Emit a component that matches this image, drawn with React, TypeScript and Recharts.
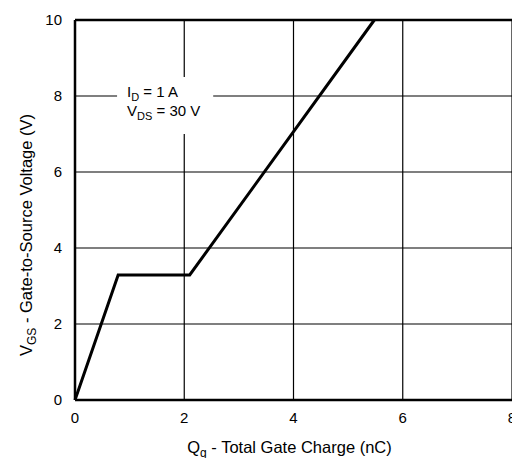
import React from "react";
import {
  LineChart,
  Line,
  XAxis,
  YAxis,
  CartesianGrid,
  ReferenceLine,
  ReferenceArea,
} from "recharts";

// gate charge curve: Qg (nC) vs VGS (V)
const charge = [0, 0.79, 2.1, 5.48];
const vgs = [0, 3.29, 3.29, 10];
const xTicks = [0, 2, 4, 6, 8];
const yTicks = [0, 2, 4, 6, 8, 10];

const data = charge.map((q, i) => ({ q, v: vgs[i] }));

const FONT = "'Liberation Sans', Arial, Helvetica, sans-serif";

function NoteLabel(props: any) {
  const { viewBox } = props;
  if (!viewBox) return null;
  const x = viewBox.x + 10;
  const y = viewBox.y;
  return (
    <g fontFamily={FONT} fontSize={15} fill="#000">
      <text x={x} y={y + 20}>
        I<tspan fontSize={11} dy={4}>D</tspan>
        <tspan dy={-4}> = 1 A</tspan>
      </text>
      <text x={x} y={y + 39}>
        V<tspan fontSize={11} dy={4}>DS</tspan>
        <tspan dy={-4}> = 30 V</tspan>
      </text>
    </g>
  );
}

function XTitle(props: any) {
  const { viewBox } = props;
  const cx = viewBox.x + viewBox.width / 2 - 4;
  return (
    <text x={cx} y={453} textAnchor="middle" fontFamily={FONT} fontSize={16.5} fill="#000">
      Q<tspan fontSize={12} dy={4}>g</tspan>
      <tspan dy={-4}> - Total Gate Charge (nC)</tspan>
    </text>
  );
}

function YTitle(props: any) {
  const { viewBox } = props;
  const cy = viewBox.y + viewBox.height / 2 + 25;
  return (
    <text
      x={32}
      y={cy}
      transform={`rotate(-90 32 ${cy})`}
      textAnchor="middle"
      fontFamily={FONT}
      fontSize={16.5}
      fill="#000"
    >
      V<tspan fontSize={12} dy={4}>GS</tspan>
      <tspan dy={-4}> - Gate-to-Source Voltage (V)</tspan>
    </text>
  );
}

export default function App() {
  return (
    <div
      style={{
        position: "absolute",
        left: 0,
        top: 0,
        width: 512,
        height: 458,
        overflow: "hidden",
        background: "#fff",
      }}
    >
      <LineChart
        width={532}
        height={458}
        data={data}
        margin={{ top: 20, right: 20, left: 0, bottom: 0 }}
      >
        <CartesianGrid stroke="#000" strokeWidth={1.2} />
        <XAxis
          dataKey="q"
          type="number"
          domain={[0, 8]}
          ticks={xTicks}
          height={58}
          tickSize={0}
          tickMargin={12}
          tickLine={false}
          axisLine={{ stroke: "#000", strokeWidth: 2.5 }}
          tick={{ fontSize: 15, fill: "#000", fontFamily: FONT }}
          label={<XTitle />}
        />
        <YAxis
          type="number"
          domain={[0, 10]}
          ticks={yTicks}
          width={75}
          tickSize={0}
          tickMargin={13}
          tickLine={false}
          axisLine={{ stroke: "#000", strokeWidth: 2.5 }}
          tick={{ fontSize: 15, fill: "#000", fontFamily: FONT }}
          label={<YTitle />}
        />
        <ReferenceLine y={10} stroke="#000" strokeWidth={2.5} />
        <ReferenceArea
          x1={0.77}
          x2={2.53}
          y1={7.0}
          y2={8.5}
          fill="#fff"
          fillOpacity={1}
          stroke="none"
          label={<NoteLabel />}
        />
        <Line
          type="linear"
          dataKey="v"
          stroke="#000"
          strokeWidth={3}
          dot={false}
          isAnimationActive={false}
        />
      </LineChart>
    </div>
  );
}
